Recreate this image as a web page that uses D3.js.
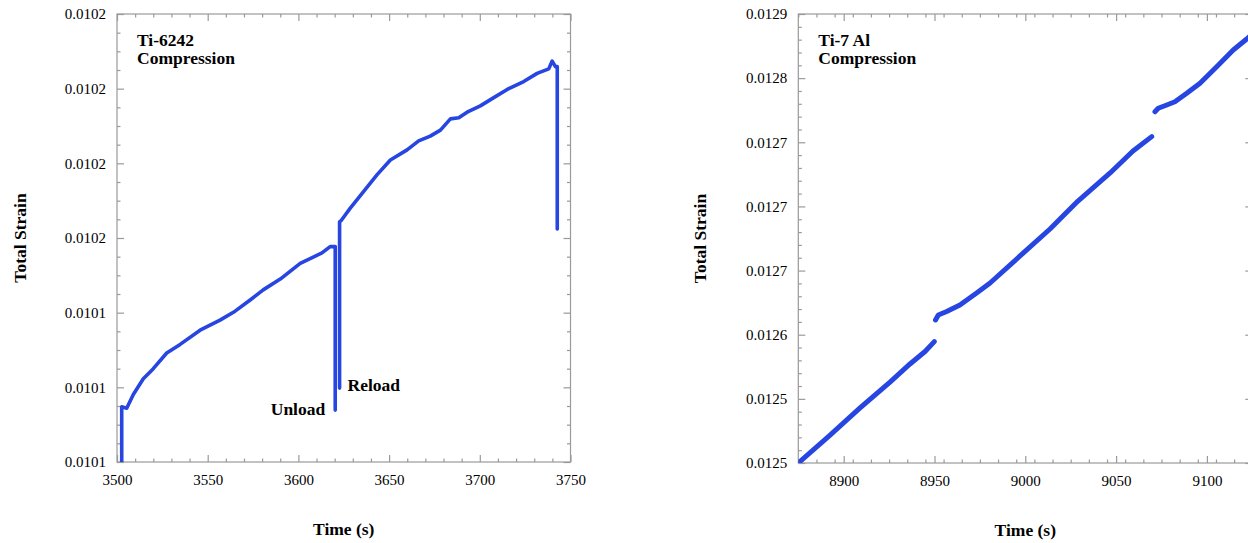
<!DOCTYPE html>
<html>
<head>
<meta charset="utf-8">
<script src="https://cdn.jsdelivr.net/npm/d3@7"></script>
<style>
  body { margin: 0; background: #fff; }
  svg { display: block; }
  text { font-family: "Liberation Serif", "Times New Roman", serif; fill: #000; }
</style>
</head>
<body>
<svg id="chart" width="1248" height="543"></svg>
<script>
// ---- Ti-6242 compression: time (s) and total strain; null marks the unload/reload gap
const ti6242Time = [3502.6, 3502.6, 3505.35, 3509.0, 3514.5, 3520.0, 3527.4, 3534.8, 3545.8, 3556.8,
  3565.1, 3573.4, 3580.6, 3590.0, 3601.0, 3613.0, 3617.5, 3620.3, 3620.3,
  3621.5,
  3622.7, 3622.7, 3623.6, 3628.6, 3635.9, 3643.3, 3650.7, 3659.9, 3666.3, 3672.7, 3678.3, 3683.8,
  3688.4, 3693.0, 3700.3, 3707.7, 3715.1, 3724.2, 3731.6, 3738.0, 3739.9, 3741.7, 3742.7, 3742.7];
const ti6242Strain = [0.010090, 0.0101148, 0.0101144, 0.0101181, 0.0101223, 0.0101250, 0.0101292, 0.0101315, 0.0101353, 0.0101380,
  0.0101404, 0.0101434, 0.0101461, 0.0101490, 0.0101532, 0.0101560, 0.0101577, 0.0101577, 0.0101139,
  null,
  0.0101198, 0.0101643, 0.0101647, 0.0101680, 0.0101724, 0.0101769, 0.0101809, 0.0101836, 0.0101860, 0.0101873, 0.0101889, 0.0101919,
  0.0101922, 0.0101937, 0.0101954, 0.0101976, 0.0101998, 0.0102019, 0.0102041, 0.0102053, 0.0102074, 0.0102059, 0.0102059, 0.0101624];
const ti6242YTicks = [0.01010, 0.01012, 0.01014, 0.01016, 0.01018, 0.01020, 0.01022];
const ti6242YLabels = ["0.0101", "0.0101", "0.0101", "0.0102", "0.0102", "0.0102", "0.0102"];
const ti6242XTicks = [3500, 3550, 3600, 3650, 3700, 3750];
const ti6242XLabels = ["3500", "3550", "3600", "3650", "3700", "3750"];

// ---- Ti-7 Al compression: three loading segments separated by null
const ti7AlTime = [8872.0, 8875.0, 8892.5, 8909.0, 8925.5, 8936.5, 8944.8, 8949.9,
  8950.2,
  8950.55, 8952.1, 8956.7, 8964.0, 8973.2, 8980.6, 8997.1, 9013.6, 9029.0, 9046.7, 9059.3, 9069.6,
  9070.5,
  9071.4, 9073.2, 9077.9, 9082.4, 9088.9, 9096.2, 9105.4, 9114.5, 9121.9, 9129.2];
const ti7AlStrain = [0.0124977, 0.0125000, 0.0125218, 0.0125429, 0.0125631, 0.0125772, 0.0125869, 0.0125946,
  null,
  0.0126115, 0.0126154, 0.0126181, 0.0126232, 0.0126325, 0.0126403, 0.0126614, 0.0126824, 0.0127042, 0.0127261, 0.0127432, 0.0127544,
  null,
  0.0127738, 0.0127765, 0.0127791, 0.0127816, 0.0127882, 0.0127960, 0.0128089, 0.0128219, 0.0128305, 0.0128399];
const ti7AlYTicks = [0.01250, 0.01255, 0.01260, 0.01265, 0.01270, 0.01275, 0.01280, 0.01285];
const ti7AlYLabels = ["0.0125", "0.0125", "0.0126", "0.0127", "0.0127", "0.0127", "0.0128", "0.0129"];
const ti7AlXTicks = [8900, 8950, 9000, 9050, 9100];
const ti7AlXLabels = ["8900", "8950", "9000", "9050", "9100"];

const LINE_COLOR = "#2745e0";
const FRAME_COLOR = "#9a9a9a";

const svg = d3.select("#chart");

function drawPanel(cfg) {
  const g = svg.append("g").attr("transform", `translate(${cfg.left},${cfg.top})`);
  const x = d3.scaleLinear().domain(cfg.xDomain).range([0, cfg.width]);
  const y = d3.scaleLinear().domain(cfg.yDomain).range([cfg.height, 0]);

  const clipId = "clip-" + cfg.id;
  g.append("clipPath").attr("id", clipId)
    .append("rect").attr("x", 0).attr("y", 0).attr("width", cfg.width).attr("height", cfg.height);

  // minor ticks on all four sides, pointing inward
  const xMinor = d3.range(cfg.xDomain[0], cfg.xDomain[1] + 1e-9, cfg.xMinorStep)
    .filter(v => !cfg.xTicks.some(t => Math.abs(t - v) < 1e-9));
  const yMinor = d3.range(0, Math.round((cfg.yDomain[1] - cfg.yDomain[0]) / cfg.yMinorStep) + 1)
    .map(i => cfg.yDomain[0] + i * cfg.yMinorStep)
    .filter(v => !cfg.yTicks.some(t => Math.abs(t - v) < 1e-12));

  const styleAxis = sel => {
    sel.select(".domain").remove();
    sel.selectAll(".tick line").attr("stroke", FRAME_COLOR).attr("stroke-width", 1.2);
    sel.selectAll(".tick text").attr("font-size", 15).attr("fill", "#000")
      .attr("font-family", '"Liberation Serif", "Times New Roman", serif');
  };

  const fmt = (ticks, labels) => v => {
    const i = ticks.findIndex(t => Math.abs(t - v) < 1e-12);
    return i >= 0 ? labels[i] : "";
  };

  // bottom (labelled)
  g.append("g").attr("transform", `translate(0,${cfg.height})`)
    .call(d3.axisBottom(x).tickValues(cfg.xTicks).tickSize(-7).tickPadding(12)
      .tickFormat(fmt(cfg.xTicks, cfg.xLabels))).call(styleAxis);
  g.append("g").attr("transform", `translate(0,${cfg.height})`)
    .call(d3.axisBottom(x).tickValues(xMinor).tickSize(-3.5).tickFormat("")).call(styleAxis);
  // top
  g.append("g")
    .call(d3.axisTop(x).tickValues(cfg.xTicks).tickSize(-7).tickFormat("")).call(styleAxis);
  g.append("g")
    .call(d3.axisTop(x).tickValues(xMinor).tickSize(-3.5).tickFormat("")).call(styleAxis);
  // left (labelled)
  g.append("g")
    .call(d3.axisLeft(y).tickValues(cfg.yTicks).tickSize(-7).tickPadding(11)
      .tickFormat(fmt(cfg.yTicks, cfg.yLabels))).call(styleAxis);
  g.append("g")
    .call(d3.axisLeft(y).tickValues(yMinor).tickSize(-3.5).tickFormat("")).call(styleAxis);
  // right
  g.append("g").attr("transform", `translate(${cfg.width},0)`)
    .call(d3.axisRight(y).tickValues(cfg.yTicks).tickSize(-7).tickFormat("")).call(styleAxis);
  g.append("g").attr("transform", `translate(${cfg.width},0)`)
    .call(d3.axisRight(y).tickValues(yMinor).tickSize(-3.5).tickFormat("")).call(styleAxis);

  // plot frame
  g.append("rect").attr("x", 0).attr("y", 0).attr("width", cfg.width).attr("height", cfg.height)
    .attr("fill", "none").attr("stroke", FRAME_COLOR).attr("stroke-width", 1.2);

  // strain trace
  const pts = cfg.time.map((t, i) => ({ t, s: cfg.strain[i] }));
  const line = d3.line().defined(d => d.s != null).x(d => x(d.t)).y(d => y(d.s));
  g.append("path").datum(pts)
    .attr("clip-path", `url(#${clipId})`)
    .attr("fill", "none").attr("stroke", LINE_COLOR).attr("stroke-width", cfg.lineWidth)
    .attr("stroke-linejoin", "round").attr("stroke-linecap", "round")
    .attr("d", line);

  // material / test-type label
  const lbl = g.append("text").attr("x", 20).attr("y", 32)
    .attr("font-size", 17.5).attr("font-weight", "bold");
  cfg.title.forEach((t, i) => lbl.append("tspan").attr("x", 20).attr("dy", i ? 18 : 0).text(t));

  // axis titles
  g.append("text").attr("x", cfg.width / 2).attr("y", cfg.height + 73)
    .attr("text-anchor", "middle").attr("font-size", 17.5).attr("font-weight", "bold")
    .text("Time (s)");
  g.append("text")
    .attr("transform", `translate(${cfg.yTitleX - cfg.left},${cfg.height / 2}) rotate(-90)`)
    .attr("text-anchor", "middle").attr("font-size", 17.5).attr("font-weight", "bold")
    .text("Total Strain");

  return { g, x, y };
}

const left = drawPanel({
  id: "ti6242", left: 117, top: 14, width: 453.5, height: 448,
  xDomain: [3500, 3750], yDomain: [0.01010, 0.01022],
  xTicks: ti6242XTicks, xLabels: ti6242XLabels, xMinorStep: 10,
  yTicks: ti6242YTicks, yLabels: ti6242YLabels, yMinorStep: 0.000005,
  time: ti6242Time, strain: ti6242Strain, lineWidth: 3.6,
  title: ["Ti-6242", "Compression"], yTitleX: 26
});

// unload / reload annotations next to the vertical segments
left.g.append("text").attr("x", left.x(3620.3) - 10).attr("y", left.y(0.0101139) + 5)
  .attr("text-anchor", "end").attr("font-size", 17.5).attr("font-weight", "bold").text("Unload");
left.g.append("text").attr("x", left.x(3622.7) + 8).attr("y", left.y(0.0101198) + 3)
  .attr("font-size", 17.5).attr("font-weight", "bold").text("Reload");

drawPanel({
  id: "ti7al", left: 798.3, top: 14, width: 454, height: 449,
  xDomain: [8875, 9125], yDomain: [0.01250, 0.01285],
  xTicks: ti7AlXTicks, xLabels: ti7AlXLabels, xMinorStep: 10,
  yTicks: ti7AlYTicks, yLabels: ti7AlYLabels, yMinorStep: 0.00001,
  time: ti7AlTime, strain: ti7AlStrain, lineWidth: 5,
  title: ["Ti-7 Al", "Compression"], yTitleX: 706
});
</script>
</body>
</html>
